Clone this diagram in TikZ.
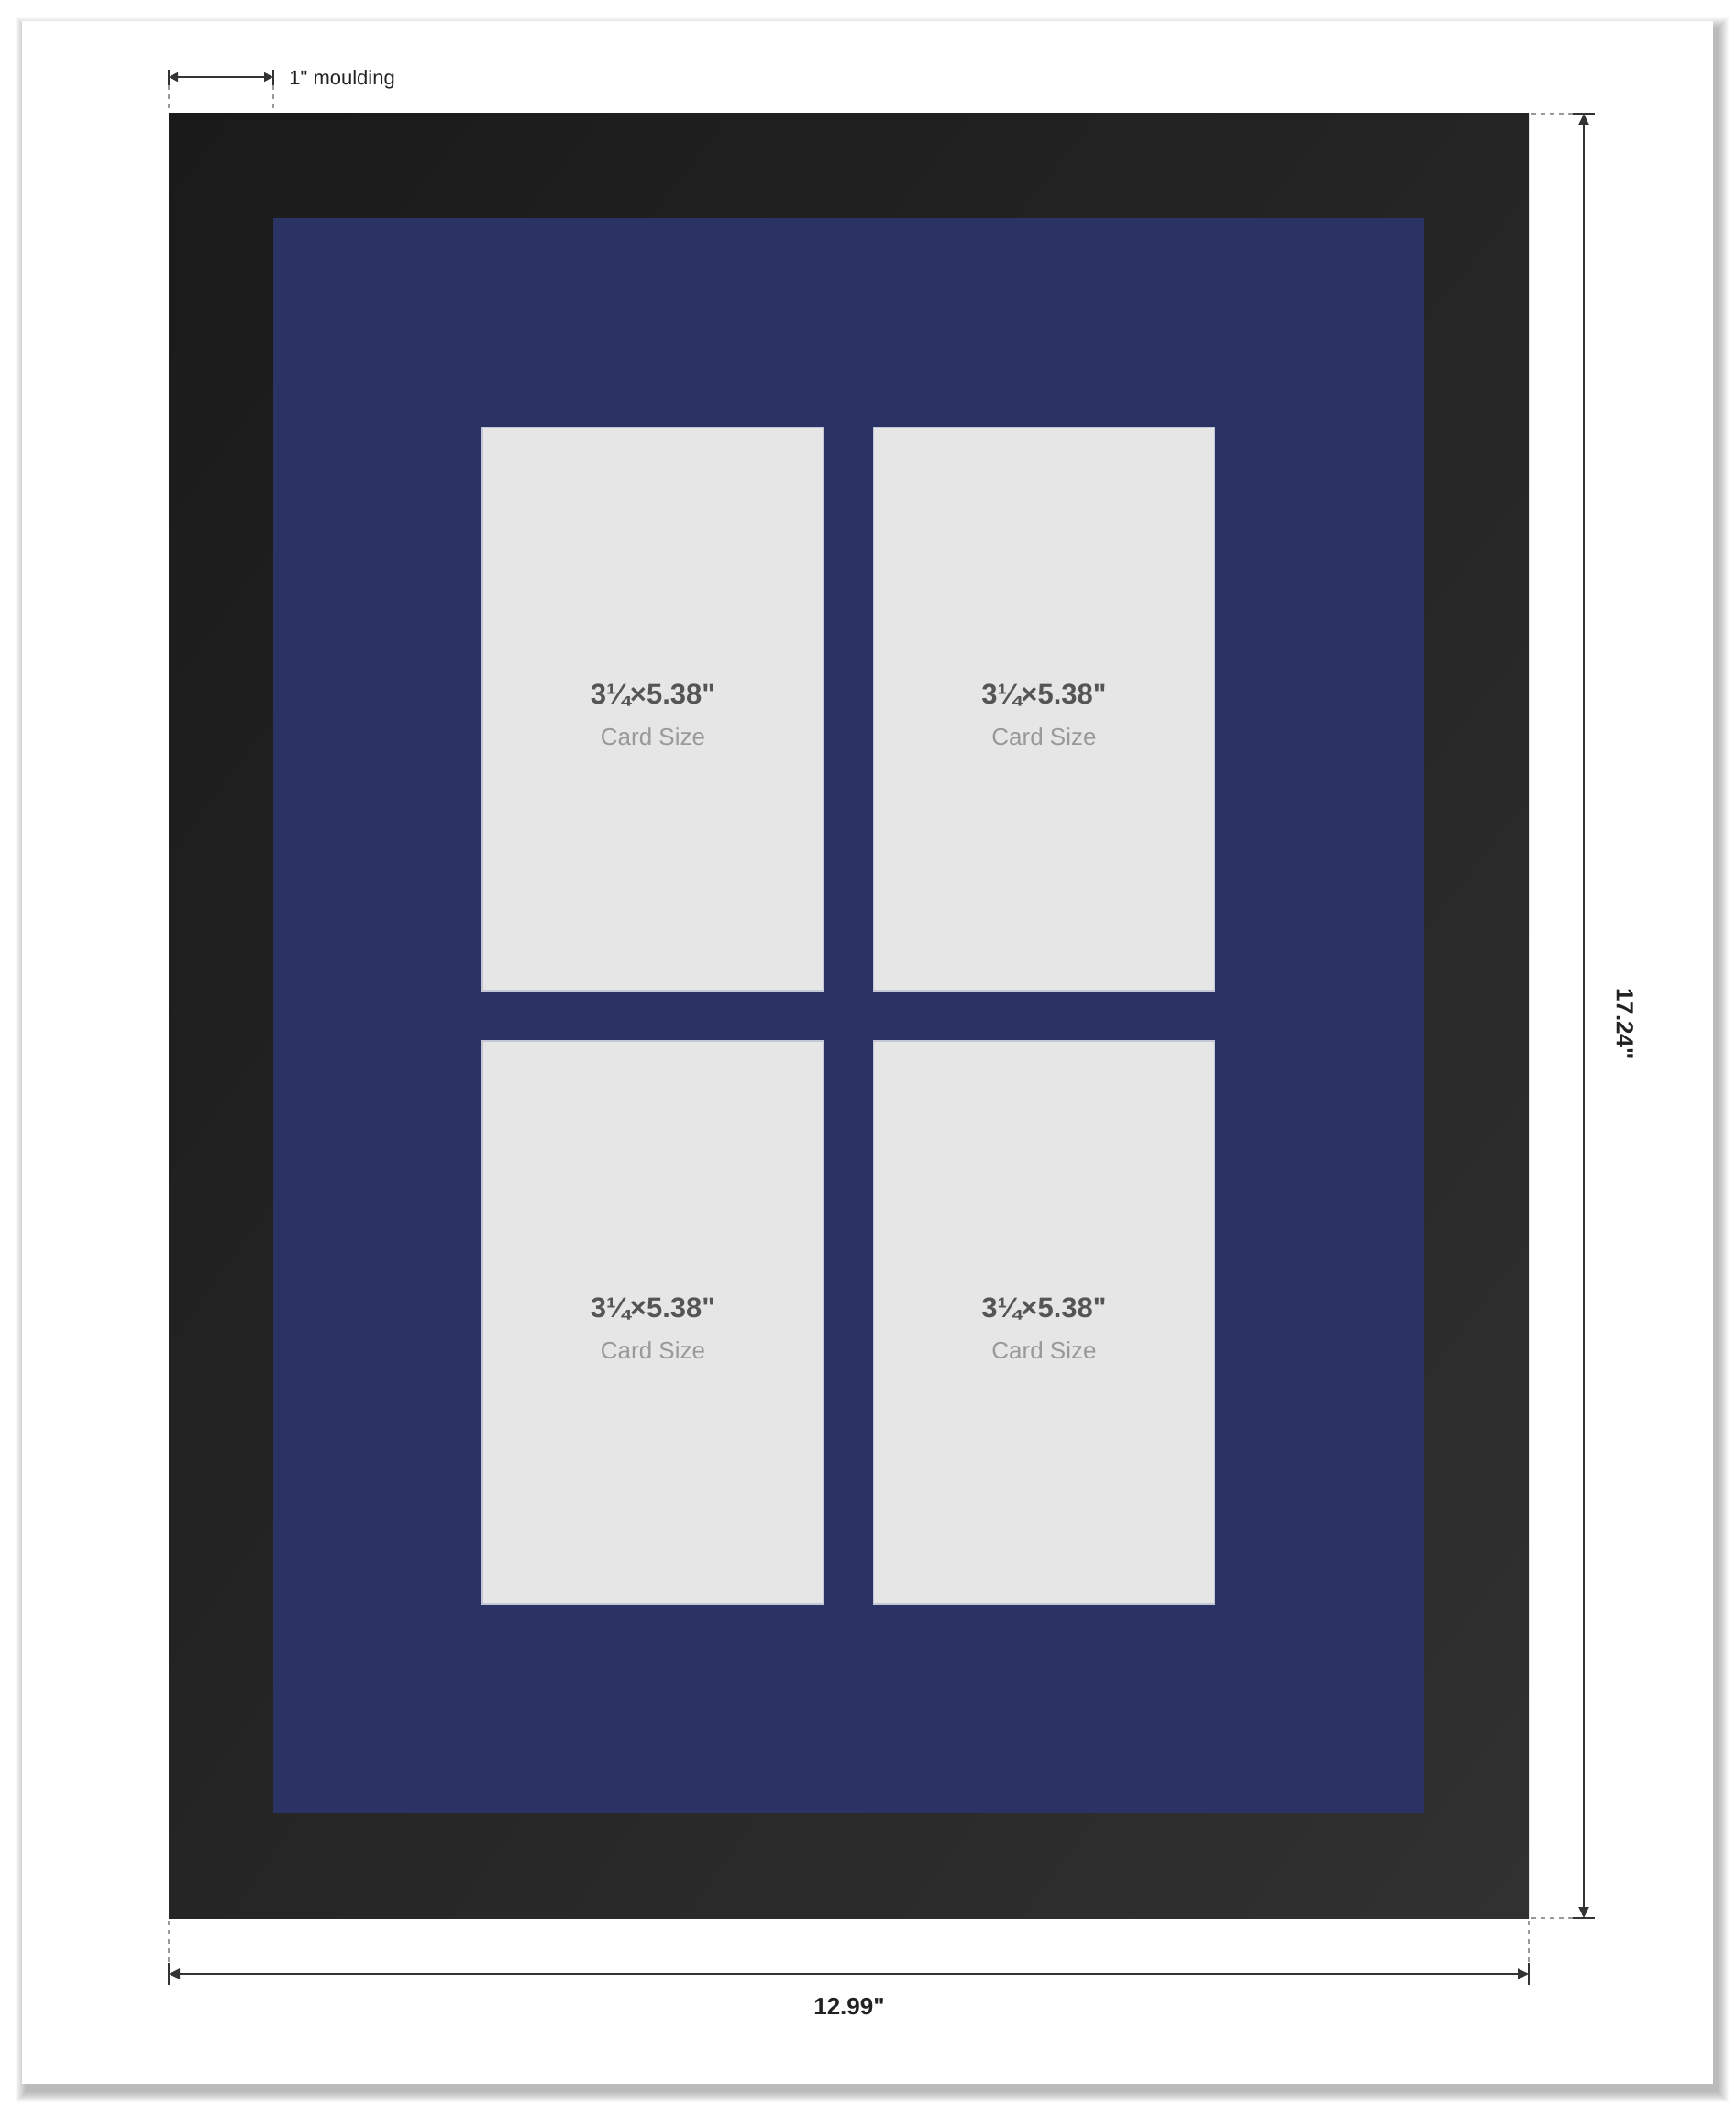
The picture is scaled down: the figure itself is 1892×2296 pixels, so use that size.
\documentclass[tikz,border=0pt]{standalone}
\usepackage{fontspec}
\setmainfont{Liberation Sans}[Ligatures=TeXOff]
\usetikzlibrary{arrows.meta,shadings}
\definecolor{framedark}{HTML}{1A1A1A}
\definecolor{framemid}{HTML}{252525}
\definecolor{framelight}{HTML}{313131}
\definecolor{matblue}{HTML}{2B3264}
\definecolor{openfill}{HTML}{E6E6E6}
\definecolor{openline}{HTML}{C4C7D6}
\definecolor{dimgray}{HTML}{333333}
\definecolor{extgray}{HTML}{999999}
\definecolor{titlegray}{HTML}{555555}
\definecolor{subgray}{HTML}{999999}
\definecolor{labelblack}{HTML}{222222}
\begin{document}
\begin{tikzpicture}[x=0.5pt,y=-0.5pt,
  opening/.style={draw=openline, line width=0.6pt, fill=openfill, minimum width=186pt, minimum height=307pt, inner sep=0pt},
  titlelbl/.style={font=\bfseries\fontsize{15.5}{18}\selectfont, text=titlegray, inner sep=0pt, anchor=base},
  sublbl/.style={font=\fontsize{13}{16}\selectfont, text=subgray, inner sep=0pt, anchor=base},
  dimline/.style={draw=dimgray, line width=1pt, {Triangle[length=6pt,width=5.5pt]}-{Triangle[length=6pt,width=5.5pt]}},
  smalldim/.style={draw=dimgray, line width=0.9pt, {Triangle[length=5pt,width=5pt]}-{Triangle[length=5pt,width=5pt]}},
  tickline/.style={draw=dimgray, line width=1.1pt},
  extline/.style={draw=extgray, line width=0.6pt, dash pattern=on 2.5pt off 2.5pt},
  dimlbl/.style={font=\bfseries\fontsize{13}{16}\selectfont, text=labelblack, inner sep=0pt}
]
\useasboundingbox (0,0) rectangle (1892,2296);
\fill[white] (0,0) rectangle (1892,2296);
% card shadow
\foreach \i in {1,...,12}{
  \fill[black, opacity=0.022] (24+5-\i,23+8-\i) rectangle (1868+5+\i,2272+8+\i);
}
\fill[white] (24,23) rectangle (1868,2272);
% frame
\shade[upper left=framedark, lower right=framelight, upper right=framemid, lower left=framemid]
  (184,124) rectangle (1667,2091);
% mat
\fill[matblue] (298,238) rectangle (1553,1977);
% openings
\node[opening] (o1) at (712,773) {};
\node[opening] (o2) at (1138.5,773) {};
\node[opening] (o3) at (712,1442) {};
\node[opening] (o4) at (1138.5,1442) {};
\foreach \o in {o1,o2,o3,o4}{
  \node[titlelbl] (\o t) at ([yshift=3pt]\o.center) {3¼×5.38"};
  \node[sublbl] (\o s) at ([yshift=-19.5pt]\o.center) {Card Size};
}
% moulding dimension
\coordinate (mL) at (184,84);
\coordinate (mR) at (298,84);
\draw[extline] (184,93) -- (184,121);
\draw[extline] (298,93) -- (298,121);
\draw[tickline] (184,76) -- (184,93);
\draw[tickline] (298,76) -- (298,93);
\draw[smalldim] (mL) -- (mR);
\node[font=\fontsize{11}{13}\selectfont, text=labelblack, inner sep=0pt, anchor=base west] (mlbl) at (315,93) {1" moulding};
% width dimension
\coordinate (wL) at (184,2152);
\coordinate (wR) at (1667,2152);
\draw[extline] (184,2094) -- (184,2140);
\draw[extline] (1667,2094) -- (1667,2140);
\draw[tickline] (184,2140) -- (184,2164);
\draw[tickline] (1667,2140) -- (1667,2164);
\draw[dimline] (wL) -- (wR);
\node[dimlbl, anchor=base] (wlbl) at (926,2196) {12.99"};
% height dimension
\coordinate (hT) at (1727,124);
\coordinate (hB) at (1727,2091);
\draw[extline] (1670,124) -- (1715,124);
\draw[extline] (1670,2091) -- (1715,2091);
\draw[tickline] (1715,124) -- (1739,124);
\draw[tickline] (1715,2091) -- (1739,2091);
\draw[dimline] (hT) -- (hB);
\node[dimlbl, rotate=-90] (hlbl) at (1772,1116) {17.24"};
\end{tikzpicture}
\end{document}
